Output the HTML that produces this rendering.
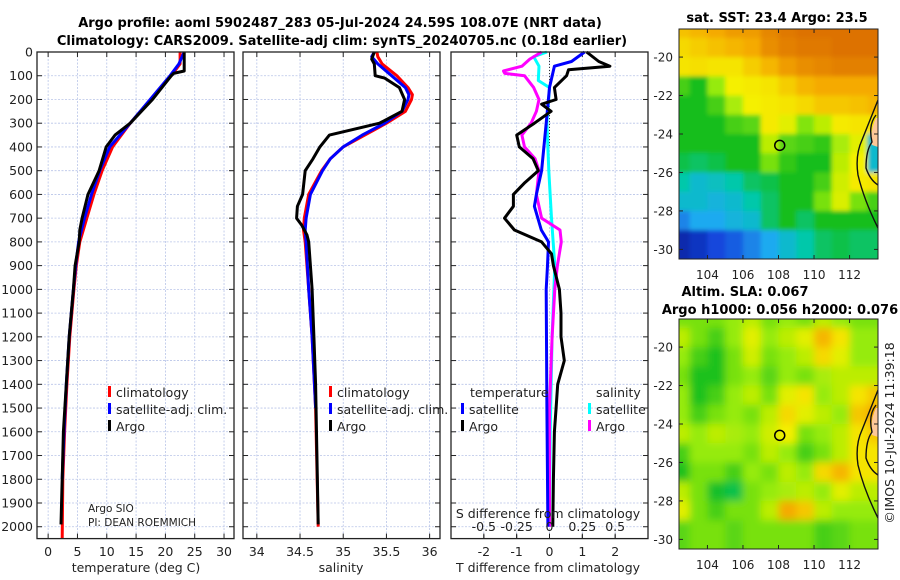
<!DOCTYPE html>
<html><head><meta charset="utf-8"><style>
html,body{margin:0;padding:0;background:#fff}
svg{display:block;font-family:"DejaVu Sans","Liberation Sans",sans-serif}
</style></head><body>
<svg id="fig" width="900" height="580" viewBox="0 0 900 580">
<defs>
<filter id="blur" x="0" y="0" width="1" height="1"><feGaussianBlur stdDeviation="4"/></filter>
<filter id="blur2" x="0" y="0" width="1" height="1"><feGaussianBlur stdDeviation="2"/></filter>
<clipPath id="clipSST"><rect x="679" y="29" width="199" height="230"/></clipPath>
<clipPath id="clipSLA"><rect x="679" y="319" width="199" height="230"/></clipPath>
</defs>
<text x="340" y="27" text-anchor="middle" font-size="13" font-weight="bold">Argo profile: aoml 5902487_283 05-Jul-2024 24.59S 108.07E (NRT data)</text>
<text x="342" y="45" text-anchor="middle" font-size="13" font-weight="bold">Climatology: CARS2009. Satellite-adj clim: synTS_20240705.nc (0.18d earlier)</text>
<text x="777" y="22" text-anchor="middle" font-size="13" font-weight="bold">sat. SST: 23.4 Argo: 23.5</text>
<text x="745" y="296" text-anchor="middle" font-size="13" font-weight="bold">Altim. SLA: 0.067</text>
<text x="780" y="314" text-anchor="middle" font-size="13" font-weight="bold">Argo h1000: 0.056 h2000: 0.076</text>
<text transform="translate(894,433) rotate(-90)" text-anchor="middle" font-size="12.5" fill="#222">©IMOS 10-Jul-2024 11:39:18</text>
<g id="g"></g>
</svg>
<script>
// ---- data ----
const depthT = [0,50,80,90,100,200,300,350,400,500,600,700,750,800,900,1000,1200,1400,1600,1800,1990];
const tempArgo = [23.2,23.2,23.2,21.4,21,17.8,14,11.4,9.9,8.7,6.8,5.8,5.4,5.3,4.6,4.3,3.6,3.1,2.6,2.4,2.2];
const depthC = [0,50,100,200,300,400,500,600,700,800,900,1000,1200,1400,1600,1800,2050];
const tempClim = [22.5,22.5,21,17.5,14,11,9.2,7.8,6.6,5.4,4.8,4.4,3.7,3.2,2.8,2.5,2.4];
const tempSat = [23.2,22.3,20.8,17.4,14,10.5,8.8,7.4,6.2,5.2,4.7,4.3,3.6,3.1,2.7,2.4,2.3];
const depthS = [0,30,50,100,110,150,200,250,300,350,400,450,500,600,650,700,730,770,800,1000,1200,1400,1990];
const salArgo = [35.36,35.33,35.36,35.37,35.48,35.65,35.71,35.68,35.42,34.84,34.73,34.65,34.56,34.53,34.47,34.46,34.52,34.58,34.6,34.64,34.66,34.68,34.71];
const depthSC = [0,20,50,100,150,180,200,250,300,350,400,450,500,600,700,750,800,1000,1200,1500,2000];
const salClim = [35.39,35.4,35.45,35.62,35.75,35.8,35.79,35.72,35.5,35.25,35.0,34.85,34.75,34.6,34.55,34.54,34.56,34.6,34.64,34.68,34.71];
const salSat = [35.36,35.33,35.4,35.56,35.72,35.76,35.75,35.68,35.48,35.22,35.0,34.85,34.76,34.62,34.57,34.56,34.57,34.6,34.64,34.68,34.71];
const depthD = [0,40,60,75,100,150,200,220,250,300,350,400,450,500,550,600,650,700,750,800,850,900,1000,1100,1200,1300,1400,1500,1600,1800,2000];
const dTArgo = [1.13,1.5,1.84,0.58,0.52,0.15,0.2,-0.24,0.05,-0.46,-1.0,-0.92,-0.5,-0.34,-0.75,-1.1,-1.1,-1.37,-1.07,-0.24,0.06,0.12,0.3,0.35,0.35,0.45,0.25,0.2,0.15,0.12,0.1];
const depthD2 = [0,40,60,150,300,500,600,650,750,800,900,1000,1500,2000];
const dTSat = [1.07,0.67,0.15,0,-0.1,-0.24,-0.4,-0.46,-0.25,-0.03,-0.06,-0.1,-0.08,-0.05];
const depthD3 = [0,20,60,120,150,300,500,700,900,1200,1600,2000];
const dSSat = [-0.02,-0.12,-0.08,-0.085,0,-0.02,-0.005,0.015,0.04,0.02,0.005,0];
const depthD4 = [0,30,60,80,90,100,150,200,250,300,350,400,450,500,600,700,750,800,900,1000,1200,1500,2000];
const dSArgo = [-0.06,-0.15,-0.21,-0.35,-0.34,-0.19,-0.12,-0.08,-0.1,-0.14,-0.21,-0.19,-0.11,-0.08,-0.1,-0.06,0.08,0.09,0.06,0.04,0.02,0,0];
const depthTicks = [0,100,200,300,400,500,600,700,800,900,1000,1100,1200,1300,1400,1500,1600,1700,1800,1900,2000];
const tempTicks = [0,5,10,15,20,25,30];
const salTicks = [34,34.5,35,35.5,36];
const tdTicks = [-2,-1,0,1,2];
const sdTicks = [-0.5,-0.25,0,0.25,0.5];
const sdTickLabels = ["-0.5","-0.25","0","0.25","0.5"];
const lonTicks = [104,106,108,110,112];
const latTicks = [-20,-22,-24,-26,-28,-30];
const mapLons = [102.5,103.5,104.5,105.5,106.5,107.5,108.5,109.5,110.5,111.5,112.5,113.5];
const mapLats = [-18.5,-19.5,-20.5,-21.5,-22.5,-23.5,-24.5,-25.5,-26.5,-27.5,-28.5,-29.5,-30.5];
const sstGrid = [
[.76,.78,.8,.82,.82,.85,.87,.88,.88,.88,.88,.88],
[.72,.74,.76,.78,.8,.84,.86,.87,.87,.88,.88,.88],
[.7,.71,.7,.7,.74,.78,.82,.84,.85,.86,.86,.86],
[.5,.45,.58,.68,.69,.7,.74,.78,.8,.8,.8,.8],
[.45,.45,.5,.6,.68,.69,.7,.72,.75,.75,.76,.78],
[.45,.45,.45,.5,.52,.69,.66,.56,.62,.69,.7,.7],
[.45,.45,.45,.45,.45,.62,.52,.5,.48,.6,.66,.3],
[.42,.4,.42,.45,.45,.55,.48,.45,.45,.62,.68,.3],
[.35,.3,.32,.35,.4,.42,.45,.45,.5,.64,.69,.7],
[.3,.3,.28,.3,.35,.4,.45,.45,.55,.65,.55,.5],
[.2,.25,.25,.28,.3,.4,.45,.4,.45,.45,.45,.45],
[.05,.08,.12,.15,.2,.25,.3,.35,.4,.42,.4,.4],
[.05,.08,.12,.15,.2,.25,.3,.35,.4,.42,.4,.4]];
const slaGrid = [
[.55,.55,.55,.58,.62,.55,.58,.55,.62,.58,.55,.55],
[.62,.55,.5,.58,.66,.58,.62,.66,.78,.7,.58,.58],
[.58,.5,.46,.55,.64,.55,.58,.62,.72,.66,.58,.58],
[.55,.46,.46,.55,.58,.52,.58,.55,.6,.62,.62,.62],
[.58,.46,.5,.58,.62,.55,.66,.7,.58,.62,.7,.75],
[.58,.5,.55,.58,.55,.62,.72,.66,.62,.58,.75,.8],
[.62,.58,.62,.6,.58,.64,.68,.55,.58,.62,.7,.75],
[.5,.58,.58,.58,.55,.62,.58,.5,.55,.62,.7,.7],
[.46,.55,.55,.5,.58,.55,.62,.58,.72,.78,.7,.7],
[.62,.55,.44,.42,.55,.58,.6,.62,.58,.66,.62,.62],
[.66,.55,.5,.55,.55,.62,.8,.75,.62,.58,.58,.58],
[.52,.55,.55,.52,.55,.55,.55,.55,.5,.52,.55,.55],
[.52,.55,.55,.52,.55,.55,.55,.55,.5,.52,.55,.55]];
const floatLon = 108.07, floatLat = -24.59;

// ---- helpers ----
const NS="http://www.w3.org/2000/svg";
const G=document.getElementById('g');
function mk(tag,attrs,parent){const e=document.createElementNS(NS,tag);for(const k in attrs)e.setAttribute(k,attrs[k]);(parent||G).appendChild(e);return e;}
const Y0=52,Y1=538.6,DMAX=2050;
const yD=d=>Y0+(Y1-Y0)*d/DMAX;
function lin(d0,d1,r0,r1){return v=>r0+(v-d0)*(r1-r0)/(d1-d0);}
const p1={x0:37,x1:234}, p2={x0:243,x1:440}, p3={x0:451,x1:648};
const xT=lin(-1.9,31.7,p1.x0,p1.x1);
const xS=lin(33.84,36.12,p2.x0,p2.x1);
const xTD=lin(-3,3,p3.x0,p3.x1);
const xSD=lin(-0.75,0.75,p3.x0,p3.x1);

function panelFrame(p,xf,ticks,labels,name,leftLabels){
  const g=mk('g',{});
  
  
  mk('rect',{x:p.x0,y:Y0,width:p.x1-p.x0,height:Y1-Y0,fill:'#fff'},g);
  ticks.forEach(t=>{const x=xf(t);mk('line',{x1:x,x2:x,y1:Y0,y2:Y1,stroke:'#b8c4e8','stroke-width':0.8,'stroke-dasharray':'2,1.5'},g);});
  depthTicks.forEach(d=>{const y=yD(d);mk('line',{x1:p.x0,x2:p.x1,y1:y,y2:y,stroke:'#b8c4e8','stroke-width':0.8,'stroke-dasharray':'2,1.5'},g);
    mk('line',{x1:p.x0,x2:p.x0+5,y1:y,y2:y,stroke:'#222'},g);mk('line',{x1:p.x1-5,x2:p.x1,y1:y,y2:y,stroke:'#222'},g);
    if(leftLabels){const t=mk('text',{x:p.x0-4,y:y+4.5,'text-anchor':'end','font-size':12.5,fill:'#222'},g);t.textContent=d;
      
      }
  });
  ticks.forEach((t,i)=>{const x=xf(t);mk('line',{x1:x,x2:x,y1:Y1,y2:Y1-5,stroke:'#222'},g);mk('line',{x1:x,x2:x,y1:Y0,y2:Y0+5,stroke:'#222'},g);
    if(labels){const tx=mk('text',{x:x,y:556,'text-anchor':'middle','font-size':12.5,fill:'#222'},g);tx.textContent=labels[i];
      
      }
  });
  return g;
}
function frameBorder(p){mk('rect',{x:p.x0,y:Y0,width:p.x1-p.x0,height:Y1-Y0,fill:'none',stroke:'#222','stroke-width':1.3});}
function line(xs,ds,xf,color,name,w){
  const pts=xs.map((v,i)=>xf(v).toFixed(1)+','+yD(ds[i]).toFixed(1)).join(' ');
  const e=mk('polyline',{points:pts,fill:'none',stroke:color,'stroke-width':w||3,'stroke-linejoin':'round'});
  
  
}
function txt(x,y,s,size,anchor,name,extra){const e=mk('text',Object.assign({x:x,y:y,'font-size':size,'text-anchor':anchor||'start',fill:'#222'},extra||{}));e.textContent=s;
  
  return e;}
function legendEntry(x,y,color,label){
  const m=mk('rect',{x:x,y:y-11,width:3,height:11,fill:color});
  
  
  txt(x+8,y,label,12.5,'start','legend-entry');
}

// panel 1
panelFrame(p1,xT,tempTicks,tempTicks,'temperature-panel',true);
line(tempClim,depthC,xT,'#ff0000','temp-climatology-line');
line(tempSat,depthC.slice(0,16),xT,'#0000ff','temp-satellite-line');
line(tempArgo,depthT,xT,'#000','temp-argo-line');
frameBorder(p1);
txt(136,572,'temperature (deg C)',12.5,'middle','x-axis-title-temperature');
legendEntry(108,397,'#ff0000','climatology');
legendEntry(108,414,'#0000ff','satellite-adj. clim.');
legendEntry(108,431,'#000','Argo');
txt(88,512,'Argo SIO',10.5,'start','float-institution');
txt(88,526,'PI: DEAN ROEMMICH',10.5,'start','float-pi');

// panel 2
panelFrame(p2,xS,salTicks,salTicks,'salinity-panel',false);
line(salClim,depthSC,xS,'#ff0000','sal-climatology-line');
line(salSat,depthSC.slice(0,20),xS,'#0000ff','sal-satellite-line');
line(salArgo,depthS,xS,'#000','sal-argo-line');
frameBorder(p2);
txt(341,572,'salinity',12.5,'middle','x-axis-title-salinity');
legendEntry(329,397,'#ff0000','climatology');
legendEntry(329,414,'#0000ff','satellite-adj. clim.');
legendEntry(329,431,'#000','Argo');

// panel 3
panelFrame(p3,xTD,tdTicks,tdTicks,'difference-panel',false);
mk('line',{x1:xTD(0),x2:xTD(0),y1:Y0,y2:yD(400),stroke:'#333','stroke-width':1,'stroke-dasharray':'1,2'});
line(dSSat,depthD3,xSD,'#00ffff','sal-diff-satellite-line');
line(dSArgo,depthD4,xSD,'#ff00ff','sal-diff-argo-line');
line(dTSat,depthD2,xTD,'#0000ff','temp-diff-satellite-line');
line(dTArgo,depthD,xTD,'#000','temp-diff-argo-line');
frameBorder(p3);
sdTicks.forEach((s,i)=>{const x=xSD(s);mk('line',{x1:x,x2:x,y1:Y1,y2:Y1-4,stroke:'#222'});
  txt(x,531,sdTickLabels[i],12.5,'middle','s-diff-tick-label');});
txt(548,518,'S difference from climatology',12.5,'middle','s-diff-axis-title');
txt(548,572,'T difference from climatology',12.5,'middle','t-diff-axis-title');
txt(470,397,'temperature',12.5,'start','legend-title-temperature');
legendEntry(461,414,'#0000ff','satellite');
legendEntry(461,431,'#000','Argo');
txt(596,397,'salinity',12.5,'start','legend-title-salinity');
legendEntry(588,414,'#00ffff','satellite');
legendEntry(588,431,'#ff00ff','Argo');

// ---- maps ----
const cmapStops=[[0,[10,20,140]],[0.12,[20,70,220]],[0.25,[30,170,240]],[0.35,[0,200,170]],[0.45,[20,190,30]],[0.58,[150,235,10]],[0.68,[245,240,0]],[0.8,[245,170,0]],[0.9,[215,100,0]],[1,[190,60,0]]];
function cmap(v){for(let i=1;i<cmapStops.length;i++){if(v<=cmapStops[i][0]){const a=cmapStops[i-1],b=cmapStops[i];const f=(v-a[0])/(b[0]-a[0]);
  const c=a[1].map((q,k)=>Math.round(q+(b[1][k]-q)*f));return `rgb(${c[0]},${c[1]},${c[2]})`;}}return 'rgb(190,60,0)';}
function drawMap(grid,y0,clip,name,blur){
  const xL=lin(102.4,113.6,679,878), yL=lin(-18.54,-30.5,y0,y0+230);
  const g=mk('g',{'clip-path':`url(#${clip})`});
  
  
  const inner=mk('g',{filter:`url(#${blur})`},g);
  grid.forEach((row,r)=>row.forEach((v,c)=>{
    const x=xL(mapLons[c]-0.5), y=yL(mapLats[r]+0.5);
    const cell=mk('rect',{x:x.toFixed(1),y:y.toFixed(1),width:(xL(1)-xL(0)+1).toFixed(1),height:(yL(-1)-yL(0)+1).toFixed(1),fill:cmap(v)},inner);
    
    
  }));
  const dy=y0-29;
  mk('path',{d:`M876,${118+dy} Q870,${130+dy} 872,${145+dy} L878,${147+dy} L878,${118+dy}Z`,fill:'#fdc898'},g);
  mk('path',{d:`M878,${100+dy} Q872,${115+dy} 862,${140+dy} Q855,${155+dy} 858,${175+dy} Q864,${200+dy} 878,${228+dy}`,fill:'none',stroke:'#111','stroke-width':1.4},g);
  mk('path',{d:`M876,${115+dy} Q868,${125+dy} 872,${142+dy} Q866,${150+dy} 866,${168+dy} Q870,${180+dy} 878,${185+dy}`,fill:'none',stroke:'#111','stroke-width':1.4},g);
  mk('rect',{x:679,y:y0,width:199,height:230,fill:'none',stroke:'#222','stroke-width':1});
  const m=mk('circle',{cx:xL(floatLon),cy:yL(floatLat),r:5,fill:'none',stroke:'#000','stroke-width':1.5});
  
  
  latTicks.forEach(l=>{const y=yL(l);mk('line',{x1:679,x2:683,y1:y,y2:y,stroke:'#222'});mk('line',{x1:874,x2:878,y1:y,y2:y,stroke:'#222'});
    txt(673,y+4.5,String(l),12,'end','map-lat-label');});
  lonTicks.forEach(l=>{const x=xL(l);mk('line',{x1:x,x2:x,y1:y0+230,y2:y0+226,stroke:'#222'});mk('line',{x1:x,x2:x,y1:y0,y2:y0+4,stroke:'#222'});
    txt(x,y0+250,String(l),12,'middle','map-lon-label');});
}
drawMap(sstGrid,29,'clipSST','sst-map','blur2');
drawMap(slaGrid,319,'clipSLA','sla-map','blur');
</script>
</body></html>
